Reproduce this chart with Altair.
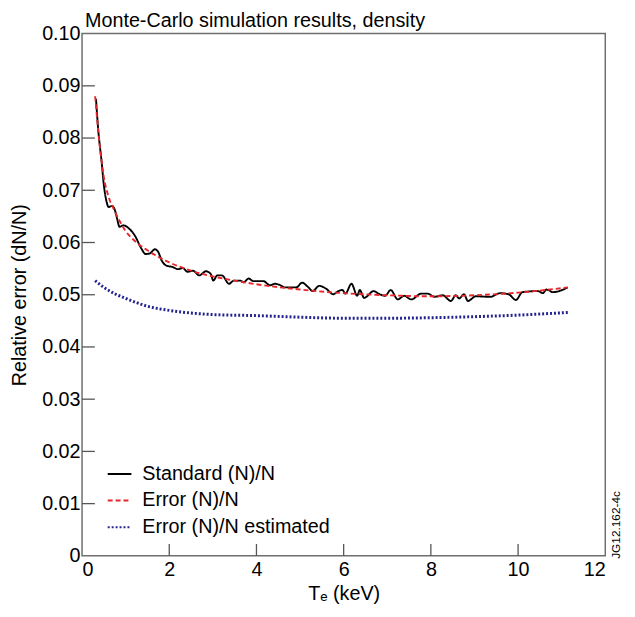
import altair as alt
import pandas as pd

# ---- data ----
std_x = [0.32, 0.37, 0.45, 0.50, 0.56, 0.61, 0.69, 0.75, 0.80, 0.86, 0.95, 1.06, 1.22, 1.35,
         1.46, 1.55, 1.67, 1.74, 1.83, 1.93, 2.08, 2.20, 2.31, 2.42, 2.54, 2.69, 2.84, 2.95,
         3.01, 3.10, 3.21, 3.37, 3.48, 3.63, 3.71, 3.82, 3.93, 4.16, 4.31, 4.42, 4.53, 4.65,
         4.91, 5.05, 5.18, 5.29, 5.44, 5.59, 5.76, 5.88, 5.97, 6.04, 6.18, 6.31, 6.37, 6.47,
         6.69, 6.80, 6.95, 7.08, 7.24, 7.39, 7.55, 7.78, 7.93, 8.08, 8.27, 8.46, 8.57, 8.65,
         8.76, 8.85, 9.03, 9.36, 9.59, 9.78, 9.95, 10.10, 10.46, 10.57, 10.65, 10.80, 11.14]
std_y = [0.0875, 0.0817, 0.0754, 0.0710, 0.0679, 0.0668, 0.0670, 0.0663, 0.0647, 0.0630, 0.0633, 0.0628, 0.0612, 0.0590,
         0.0578, 0.0579, 0.0587, 0.0583, 0.0565, 0.0556, 0.0553, 0.0549, 0.0551, 0.0544, 0.0546, 0.0537, 0.0545, 0.0540,
         0.0527, 0.0537, 0.0537, 0.0521, 0.0527, 0.0527, 0.0524, 0.0531, 0.0526, 0.0526, 0.0518, 0.0521, 0.0519, 0.0514,
         0.0514, 0.0523, 0.0515, 0.0507, 0.0517, 0.0512, 0.0501, 0.0507, 0.0509, 0.0502, 0.0521, 0.0498, 0.0509, 0.0494,
         0.0507, 0.0502, 0.0498, 0.0509, 0.0491, 0.0498, 0.0491, 0.0502, 0.0502, 0.0496, 0.0499, 0.0488, 0.0499, 0.0493,
         0.0501, 0.0488, 0.0497, 0.0496, 0.0503, 0.0501, 0.0490, 0.0505, 0.0507, 0.0503, 0.0510, 0.0505, 0.0514]

err_x = [0.30, 0.40, 0.50, 0.60, 0.75, 1.0, 1.25, 1.5, 2.0, 2.5, 3.0, 3.5, 4.0, 5.0, 6.0, 7.0, 8.0, 9.0, 10.0, 11.14]
err_y = [0.0880, 0.0790, 0.0725, 0.0690, 0.0660, 0.0622, 0.0600, 0.0585, 0.0562, 0.0546, 0.0535, 0.0527,
         0.0520, 0.0510, 0.0503, 0.0499, 0.0497, 0.0499, 0.0504, 0.0514]

est_x = [0.30, 0.50, 0.75, 1.0, 1.5, 2.0, 2.5, 3.0, 4.0, 5.0, 6.0, 7.0, 8.0, 9.0, 10.0, 11.14]
est_y = [0.0527, 0.0514, 0.0502, 0.0493, 0.0478, 0.0470, 0.0465, 0.0462, 0.0460, 0.0457, 0.0455,
         0.0455, 0.0456, 0.0458, 0.0461, 0.0466]

series_names = ["Standard (N)/N", "Error (N)/N", "Error (N)/N estimated"]
series_colors = ["#000000", "#e8262a", "#23238e"]
series_dash = [[1, 0], [5, 3], [2, 2]]

x_ticks = [0, 2, 4, 6, 8, 10, 12]
y_ticks = [0, 0.01, 0.02, 0.03, 0.04, 0.05, 0.06, 0.07, 0.08, 0.09, 0.10]
inner_x_ticks = [2, 4, 6, 8, 10]
inner_y_ticks = [0.01, 0.02, 0.03, 0.04, 0.05, 0.06, 0.07, 0.08, 0.09]

title_text = ["Monte-Carlo simulation results, density"]
tag_text = ["JG12.162-4c"]

FONT = "Liberation Sans"
W, H = 530, 529

rows = []
for name, xs, ys in zip(series_names, [std_x, err_x, est_x], [std_y, err_y, est_y]):
    for i, (a, b) in enumerate(zip(xs, ys)):
        rows.append({"x": a, "y": b, "series": name, "order": i})
df = pd.DataFrame(rows)

xscale = alt.Scale(domain=[0, 12], nice=False, zero=False)
yscale = alt.Scale(domain=[0, 0.1], nice=False, zero=False)

lines = alt.Chart(df).mark_line(interpolate="monotone").encode(
    x=alt.X("x:Q", scale=xscale,
            axis=alt.Axis(values=x_ticks, title="Tₑ (keV)", tickSize=0, domain=False, grid=False,
                          labelFlush=True, labelPadding=4, titlePadding=4,
                          labelFontSize=20, titleFontSize=20, labelFont=FONT, titleFont=FONT,
                          titleFontWeight="normal", labelColor="#000", titleColor="#000")),
    y=alt.Y("y:Q", scale=yscale,
            axis=alt.Axis(values=y_ticks, title="Relative error (dN/N)", tickSize=0, domain=False,
                          grid=False, labelPadding=2, titlePadding=12,
                          labelExpr="datum.value == 0 ? '0' : format(datum.value, '.2f')",
                          labelFontSize=20, titleFontSize=20, labelFont=FONT, titleFont=FONT,
                          titleFontWeight="normal", labelColor="#000", titleColor="#000")),
    color=alt.Color("series:N", scale=alt.Scale(domain=series_names, range=series_colors),
                    legend=alt.Legend(title=None, orient="none", legendX=25, legendY=433,
                                      symbolType="stroke", symbolSize=576, symbolStrokeWidth=2,
                                      labelFontSize=20, labelFont=FONT, labelColor="#000",
                                      labelLimit=0, labelOffset=10, rowPadding=4, padding=0)),
    strokeDash=alt.StrokeDash("series:N", scale=alt.Scale(domain=series_names, range=series_dash)),
    strokeWidth=alt.condition(alt.datum.series == "Error (N)/N estimated", alt.value(3.0), alt.value(1.9)),
    order="order:Q",
)

ytick_df = pd.DataFrame({"v": inner_y_ticks})
xtick_df = pd.DataFrame({"v": inner_x_ticks})

yticks = alt.Chart(ytick_df).mark_rule(color="#555", strokeWidth=1.3).encode(
    y=alt.Y("v:Q", scale=yscale), x=alt.value(0), x2=alt.value(13))
xticks = alt.Chart(xtick_df).mark_rule(color="#555", strokeWidth=1.3).encode(
    x=alt.X("v:Q", scale=xscale), y=alt.value(H), y2=alt.value(H - 12))

title = alt.Chart(pd.DataFrame({"t": title_text})).mark_text(
    align="left", baseline="alphabetic", fontSize=20, font=FONT, color="#000"
).encode(text="t:N", x=alt.value(3), y=alt.value(-7))

tag = alt.Chart(pd.DataFrame({"t": tag_text})).mark_text(
    angle=270, align="left", baseline="middle", fontSize=12, font=FONT, color="#000"
).encode(text="t:N", x=alt.value(541), y=alt.value(532))

chart = alt.layer(lines, yticks, xticks, title, tag).properties(
    width=W, height=H,
    padding={"left": 75, "top": 22, "right": 22, "bottom": 58},
    autosize=alt.AutoSizeParams(type="none"),
).configure_view(stroke="#6e6e6e", strokeWidth=1.5)

chart.save("out.html", embed_options={"renderer": "svg", "actions": False})
